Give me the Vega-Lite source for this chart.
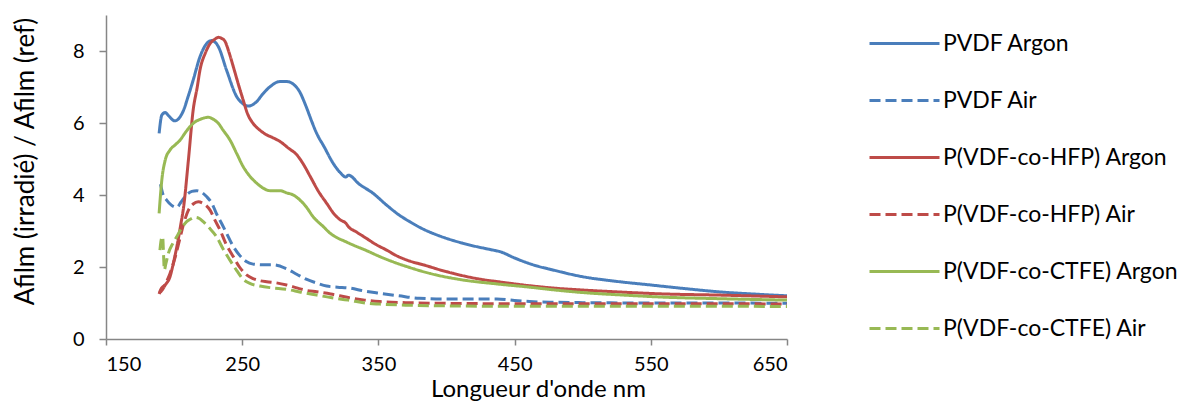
{
  "$schema": "https://vega.github.io/schema/vega-lite/v6.json",
  "autosize": "none",
  "width": 681,
  "height": 324,
  "padding": {"left": 106, "top": 15, "right": 397, "bottom": 64},
  "background": "white",
  "config": {
    "view": {"stroke": null},
    "font": "Lato",
    "axis": {
      "grid": false,
      "domainColor": "#868686",
      "domainWidth": 1.5,
      "tickColor": "#868686",
      "tickWidth": 1.5,
      "labelFont": "Lato",
      "labelFontSize": 20,
      "labelColor": "#000000",
      "titleFont": "Lato",
      "titleFontSize": 24,
      "titleFontWeight": "normal",
      "titleColor": "#000000"
    },
    "legend": {
      "orient": "none",
      "legendX": 762,
      "legendY": -8,
      "title": null,
      "symbolType": "stroke",
      "symbolSize": 4900,
      "symbolStrokeWidth": 3,
      "labelFont": "Lato",
      "labelFontSize": 23,
      "labelColor": "#000000",
      "labelOffset": 2,
      "rowPadding": 8,
      "labelLimit": 400
    }
  },
  "data": {
    "values": [
      {"series": "PVDF Argon", "x": 189, "y": 5.71},
      {"series": "PVDF Argon", "x": 191, "y": 6.22},
      {"series": "PVDF Argon", "x": 193.5, "y": 6.29},
      {"series": "PVDF Argon", "x": 196, "y": 6.2},
      {"series": "PVDF Argon", "x": 200.5, "y": 6.06},
      {"series": "PVDF Argon", "x": 204, "y": 6.15},
      {"series": "PVDF Argon", "x": 207, "y": 6.36},
      {"series": "PVDF Argon", "x": 210, "y": 6.7},
      {"series": "PVDF Argon", "x": 214, "y": 7.19},
      {"series": "PVDF Argon", "x": 219, "y": 7.84},
      {"series": "PVDF Argon", "x": 224, "y": 8.21},
      {"series": "PVDF Argon", "x": 227.5, "y": 8.29},
      {"series": "PVDF Argon", "x": 230, "y": 8.25},
      {"series": "PVDF Argon", "x": 232.5, "y": 8.12},
      {"series": "PVDF Argon", "x": 238.5, "y": 7.47},
      {"series": "PVDF Argon", "x": 246, "y": 6.73},
      {"series": "PVDF Argon", "x": 250, "y": 6.55},
      {"series": "PVDF Argon", "x": 254.5, "y": 6.47},
      {"series": "PVDF Argon", "x": 260.5, "y": 6.59},
      {"series": "PVDF Argon", "x": 265, "y": 6.8},
      {"series": "PVDF Argon", "x": 270.5, "y": 7.01},
      {"series": "PVDF Argon", "x": 277.5, "y": 7.15},
      {"series": "PVDF Argon", "x": 283, "y": 7.15},
      {"series": "PVDF Argon", "x": 287.5, "y": 7.08},
      {"series": "PVDF Argon", "x": 292, "y": 6.88},
      {"series": "PVDF Argon", "x": 297, "y": 6.45},
      {"series": "PVDF Argon", "x": 301, "y": 6.05},
      {"series": "PVDF Argon", "x": 304.7, "y": 5.71},
      {"series": "PVDF Argon", "x": 310, "y": 5.35},
      {"series": "PVDF Argon", "x": 316.8, "y": 4.88},
      {"series": "PVDF Argon", "x": 322, "y": 4.62},
      {"series": "PVDF Argon", "x": 326, "y": 4.5},
      {"series": "PVDF Argon", "x": 328, "y": 4.55},
      {"series": "PVDF Argon", "x": 336, "y": 4.3},
      {"series": "PVDF Argon", "x": 346, "y": 4.05},
      {"series": "PVDF Argon", "x": 356, "y": 3.72},
      {"series": "PVDF Argon", "x": 365, "y": 3.45},
      {"series": "PVDF Argon", "x": 373, "y": 3.26},
      {"series": "PVDF Argon", "x": 383, "y": 3.05},
      {"series": "PVDF Argon", "x": 393, "y": 2.89},
      {"series": "PVDF Argon", "x": 412, "y": 2.66},
      {"series": "PVDF Argon", "x": 434, "y": 2.47},
      {"series": "PVDF Argon", "x": 439, "y": 2.43},
      {"series": "PVDF Argon", "x": 450, "y": 2.25},
      {"series": "PVDF Argon", "x": 462, "y": 2.08},
      {"series": "PVDF Argon", "x": 480, "y": 1.9},
      {"series": "PVDF Argon", "x": 500, "y": 1.73},
      {"series": "PVDF Argon", "x": 525, "y": 1.6},
      {"series": "PVDF Argon", "x": 550, "y": 1.5},
      {"series": "PVDF Argon", "x": 575, "y": 1.4},
      {"series": "PVDF Argon", "x": 600, "y": 1.31},
      {"series": "PVDF Argon", "x": 625, "y": 1.25},
      {"series": "PVDF Argon", "x": 650, "y": 1.2},

      {"series": "PVDF Air", "x": 190, "y": 4.3},
      {"series": "PVDF Air", "x": 192, "y": 4.0},
      {"series": "PVDF Air", "x": 194.5, "y": 3.86},
      {"series": "PVDF Air", "x": 198, "y": 3.72},
      {"series": "PVDF Air", "x": 202, "y": 3.66},
      {"series": "PVDF Air", "x": 205, "y": 3.8},
      {"series": "PVDF Air", "x": 209, "y": 4.0},
      {"series": "PVDF Air", "x": 213, "y": 4.1},
      {"series": "PVDF Air", "x": 216.5, "y": 4.12},
      {"series": "PVDF Air", "x": 220, "y": 4.08},
      {"series": "PVDF Air", "x": 224, "y": 3.95},
      {"series": "PVDF Air", "x": 228, "y": 3.75},
      {"series": "PVDF Air", "x": 231, "y": 3.49},
      {"series": "PVDF Air", "x": 235, "y": 3.2},
      {"series": "PVDF Air", "x": 238.5, "y": 2.94},
      {"series": "PVDF Air", "x": 243, "y": 2.6},
      {"series": "PVDF Air", "x": 248, "y": 2.33},
      {"series": "PVDF Air", "x": 253, "y": 2.15},
      {"series": "PVDF Air", "x": 258, "y": 2.08},
      {"series": "PVDF Air", "x": 265, "y": 2.06},
      {"series": "PVDF Air", "x": 273, "y": 2.06},
      {"series": "PVDF Air", "x": 282.6, "y": 1.95},
      {"series": "PVDF Air", "x": 290, "y": 1.8},
      {"series": "PVDF Air", "x": 297, "y": 1.66},
      {"series": "PVDF Air", "x": 305, "y": 1.55},
      {"series": "PVDF Air", "x": 312, "y": 1.47},
      {"series": "PVDF Air", "x": 320, "y": 1.44},
      {"series": "PVDF Air", "x": 328, "y": 1.42},
      {"series": "PVDF Air", "x": 340, "y": 1.33},
      {"series": "PVDF Air", "x": 351, "y": 1.27},
      {"series": "PVDF Air", "x": 365, "y": 1.2},
      {"series": "PVDF Air", "x": 380, "y": 1.13},
      {"series": "PVDF Air", "x": 400, "y": 1.11},
      {"series": "PVDF Air", "x": 420, "y": 1.11},
      {"series": "PVDF Air", "x": 437, "y": 1.11},
      {"series": "PVDF Air", "x": 450, "y": 1.07},
      {"series": "PVDF Air", "x": 461, "y": 1.04},
      {"series": "PVDF Air", "x": 480, "y": 1.02},
      {"series": "PVDF Air", "x": 500, "y": 1.01},
      {"series": "PVDF Air", "x": 550, "y": 1.0},
      {"series": "PVDF Air", "x": 600, "y": 1.0},
      {"series": "PVDF Air", "x": 650, "y": 0.99},

      {"series": "P(VDF-co-HFP) Argon", "x": 189, "y": 1.27},
      {"series": "P(VDF-co-HFP) Argon", "x": 191, "y": 1.35},
      {"series": "P(VDF-co-HFP) Argon", "x": 193.5, "y": 1.5},
      {"series": "P(VDF-co-HFP) Argon", "x": 197, "y": 1.73},
      {"series": "P(VDF-co-HFP) Argon", "x": 200, "y": 2.2},
      {"series": "P(VDF-co-HFP) Argon", "x": 202, "y": 2.56},
      {"series": "P(VDF-co-HFP) Argon", "x": 205, "y": 3.2},
      {"series": "P(VDF-co-HFP) Argon", "x": 207, "y": 3.67},
      {"series": "P(VDF-co-HFP) Argon", "x": 210.5, "y": 4.97},
      {"series": "P(VDF-co-HFP) Argon", "x": 214, "y": 6.36},
      {"series": "P(VDF-co-HFP) Argon", "x": 217, "y": 7.0},
      {"series": "P(VDF-co-HFP) Argon", "x": 219, "y": 7.47},
      {"series": "P(VDF-co-HFP) Argon", "x": 223, "y": 7.95},
      {"series": "P(VDF-co-HFP) Argon", "x": 226.5, "y": 8.21},
      {"series": "P(VDF-co-HFP) Argon", "x": 230, "y": 8.33},
      {"series": "P(VDF-co-HFP) Argon", "x": 232.5, "y": 8.38},
      {"series": "P(VDF-co-HFP) Argon", "x": 235, "y": 8.35},
      {"series": "P(VDF-co-HFP) Argon", "x": 237.5, "y": 8.26},
      {"series": "P(VDF-co-HFP) Argon", "x": 240, "y": 8.0},
      {"series": "P(VDF-co-HFP) Argon", "x": 243.5, "y": 7.56},
      {"series": "P(VDF-co-HFP) Argon", "x": 247, "y": 7.1},
      {"series": "P(VDF-co-HFP) Argon", "x": 250.7, "y": 6.64},
      {"series": "P(VDF-co-HFP) Argon", "x": 254, "y": 6.25},
      {"series": "P(VDF-co-HFP) Argon", "x": 258, "y": 5.99},
      {"series": "P(VDF-co-HFP) Argon", "x": 263, "y": 5.8},
      {"series": "P(VDF-co-HFP) Argon", "x": 268, "y": 5.67},
      {"series": "P(VDF-co-HFP) Argon", "x": 272, "y": 5.6},
      {"series": "P(VDF-co-HFP) Argon", "x": 278, "y": 5.48},
      {"series": "P(VDF-co-HFP) Argon", "x": 284, "y": 5.3},
      {"series": "P(VDF-co-HFP) Argon", "x": 290, "y": 5.12},
      {"series": "P(VDF-co-HFP) Argon", "x": 295, "y": 4.85},
      {"series": "P(VDF-co-HFP) Argon", "x": 300, "y": 4.51},
      {"series": "P(VDF-co-HFP) Argon", "x": 306, "y": 4.1},
      {"series": "P(VDF-co-HFP) Argon", "x": 312, "y": 3.77},
      {"series": "P(VDF-co-HFP) Argon", "x": 318, "y": 3.45},
      {"series": "P(VDF-co-HFP) Argon", "x": 322, "y": 3.31},
      {"series": "P(VDF-co-HFP) Argon", "x": 326, "y": 3.22},
      {"series": "P(VDF-co-HFP) Argon", "x": 328, "y": 3.12},
      {"series": "P(VDF-co-HFP) Argon", "x": 334, "y": 2.97},
      {"series": "P(VDF-co-HFP) Argon", "x": 341, "y": 2.8},
      {"series": "P(VDF-co-HFP) Argon", "x": 348, "y": 2.63},
      {"series": "P(VDF-co-HFP) Argon", "x": 356, "y": 2.47},
      {"series": "P(VDF-co-HFP) Argon", "x": 363, "y": 2.32},
      {"series": "P(VDF-co-HFP) Argon", "x": 371, "y": 2.19},
      {"series": "P(VDF-co-HFP) Argon", "x": 383, "y": 2.06},
      {"series": "P(VDF-co-HFP) Argon", "x": 400, "y": 1.87},
      {"series": "P(VDF-co-HFP) Argon", "x": 425, "y": 1.66},
      {"series": "P(VDF-co-HFP) Argon", "x": 440, "y": 1.58},
      {"series": "P(VDF-co-HFP) Argon", "x": 461, "y": 1.48},
      {"series": "P(VDF-co-HFP) Argon", "x": 480, "y": 1.41},
      {"series": "P(VDF-co-HFP) Argon", "x": 500, "y": 1.36},
      {"series": "P(VDF-co-HFP) Argon", "x": 530, "y": 1.3},
      {"series": "P(VDF-co-HFP) Argon", "x": 561, "y": 1.25},
      {"series": "P(VDF-co-HFP) Argon", "x": 600, "y": 1.22},
      {"series": "P(VDF-co-HFP) Argon", "x": 650, "y": 1.17},

      {"series": "P(VDF-co-HFP) Air", "x": 189, "y": 1.25},
      {"series": "P(VDF-co-HFP) Air", "x": 190, "y": 1.36},
      {"series": "P(VDF-co-HFP) Air", "x": 193, "y": 1.5},
      {"series": "P(VDF-co-HFP) Air", "x": 197, "y": 1.82},
      {"series": "P(VDF-co-HFP) Air", "x": 201, "y": 2.3},
      {"series": "P(VDF-co-HFP) Air", "x": 204, "y": 2.75},
      {"series": "P(VDF-co-HFP) Air", "x": 207, "y": 3.2},
      {"series": "P(VDF-co-HFP) Air", "x": 210.5, "y": 3.58},
      {"series": "P(VDF-co-HFP) Air", "x": 214, "y": 3.75},
      {"series": "P(VDF-co-HFP) Air", "x": 217.7, "y": 3.81},
      {"series": "P(VDF-co-HFP) Air", "x": 222, "y": 3.75},
      {"series": "P(VDF-co-HFP) Air", "x": 226.4, "y": 3.58},
      {"series": "P(VDF-co-HFP) Air", "x": 230, "y": 3.3},
      {"series": "P(VDF-co-HFP) Air", "x": 233.7, "y": 3.03},
      {"series": "P(VDF-co-HFP) Air", "x": 238, "y": 2.65},
      {"series": "P(VDF-co-HFP) Air", "x": 243.4, "y": 2.29},
      {"series": "P(VDF-co-HFP) Air", "x": 248, "y": 2.0},
      {"series": "P(VDF-co-HFP) Air", "x": 253.2, "y": 1.78},
      {"series": "P(VDF-co-HFP) Air", "x": 258, "y": 1.68},
      {"series": "P(VDF-co-HFP) Air", "x": 263, "y": 1.62},
      {"series": "P(VDF-co-HFP) Air", "x": 268, "y": 1.59},
      {"series": "P(VDF-co-HFP) Air", "x": 275, "y": 1.56},
      {"series": "P(VDF-co-HFP) Air", "x": 282.6, "y": 1.5},
      {"series": "P(VDF-co-HFP) Air", "x": 290, "y": 1.42},
      {"series": "P(VDF-co-HFP) Air", "x": 297, "y": 1.35},
      {"series": "P(VDF-co-HFP) Air", "x": 304.7, "y": 1.31},
      {"series": "P(VDF-co-HFP) Air", "x": 315, "y": 1.25},
      {"series": "P(VDF-co-HFP) Air", "x": 327.9, "y": 1.15},
      {"series": "P(VDF-co-HFP) Air", "x": 340, "y": 1.08},
      {"series": "P(VDF-co-HFP) Air", "x": 351, "y": 1.04},
      {"series": "P(VDF-co-HFP) Air", "x": 370, "y": 1.01},
      {"series": "P(VDF-co-HFP) Air", "x": 400, "y": 0.99},
      {"series": "P(VDF-co-HFP) Air", "x": 450, "y": 0.98},
      {"series": "P(VDF-co-HFP) Air", "x": 500, "y": 0.98},
      {"series": "P(VDF-co-HFP) Air", "x": 550, "y": 0.98},
      {"series": "P(VDF-co-HFP) Air", "x": 600, "y": 0.98},
      {"series": "P(VDF-co-HFP) Air", "x": 650, "y": 0.97},

      {"series": "P(VDF-co-CTFE) Argon", "x": 189, "y": 3.49},
      {"series": "P(VDF-co-CTFE) Argon", "x": 190, "y": 4.0},
      {"series": "P(VDF-co-CTFE) Argon", "x": 191, "y": 4.42},
      {"series": "P(VDF-co-CTFE) Argon", "x": 193.5, "y": 4.97},
      {"series": "P(VDF-co-CTFE) Argon", "x": 197, "y": 5.25},
      {"series": "P(VDF-co-CTFE) Argon", "x": 201, "y": 5.4},
      {"series": "P(VDF-co-CTFE) Argon", "x": 204.5, "y": 5.53},
      {"series": "P(VDF-co-CTFE) Argon", "x": 208, "y": 5.72},
      {"series": "P(VDF-co-CTFE) Argon", "x": 211.7, "y": 5.9},
      {"series": "P(VDF-co-CTFE) Argon", "x": 215, "y": 6.02},
      {"series": "P(VDF-co-CTFE) Argon", "x": 219, "y": 6.1},
      {"series": "P(VDF-co-CTFE) Argon", "x": 222, "y": 6.14},
      {"series": "P(VDF-co-CTFE) Argon", "x": 225, "y": 6.16},
      {"series": "P(VDF-co-CTFE) Argon", "x": 228, "y": 6.12},
      {"series": "P(VDF-co-CTFE) Argon", "x": 232.5, "y": 5.99},
      {"series": "P(VDF-co-CTFE) Argon", "x": 236, "y": 5.8},
      {"series": "P(VDF-co-CTFE) Argon", "x": 241, "y": 5.53},
      {"series": "P(VDF-co-CTFE) Argon", "x": 246, "y": 5.15},
      {"series": "P(VDF-co-CTFE) Argon", "x": 250.7, "y": 4.79},
      {"series": "P(VDF-co-CTFE) Argon", "x": 255, "y": 4.55},
      {"series": "P(VDF-co-CTFE) Argon", "x": 260.6, "y": 4.33},
      {"series": "P(VDF-co-CTFE) Argon", "x": 265, "y": 4.2},
      {"series": "P(VDF-co-CTFE) Argon", "x": 270.4, "y": 4.12},
      {"series": "P(VDF-co-CTFE) Argon", "x": 277.8, "y": 4.12},
      {"series": "P(VDF-co-CTFE) Argon", "x": 282.6, "y": 4.06},
      {"series": "P(VDF-co-CTFE) Argon", "x": 287.5, "y": 4.0},
      {"series": "P(VDF-co-CTFE) Argon", "x": 292.4, "y": 3.86},
      {"series": "P(VDF-co-CTFE) Argon", "x": 297, "y": 3.67},
      {"series": "P(VDF-co-CTFE) Argon", "x": 302, "y": 3.4},
      {"series": "P(VDF-co-CTFE) Argon", "x": 309.6, "y": 3.12},
      {"series": "P(VDF-co-CTFE) Argon", "x": 314.5, "y": 2.94},
      {"series": "P(VDF-co-CTFE) Argon", "x": 319.3, "y": 2.82},
      {"series": "P(VDF-co-CTFE) Argon", "x": 325, "y": 2.72},
      {"series": "P(VDF-co-CTFE) Argon", "x": 331.5, "y": 2.61},
      {"series": "P(VDF-co-CTFE) Argon", "x": 341, "y": 2.46},
      {"series": "P(VDF-co-CTFE) Argon", "x": 351, "y": 2.29},
      {"series": "P(VDF-co-CTFE) Argon", "x": 361, "y": 2.14},
      {"series": "P(VDF-co-CTFE) Argon", "x": 371, "y": 2.01},
      {"series": "P(VDF-co-CTFE) Argon", "x": 388, "y": 1.82},
      {"series": "P(VDF-co-CTFE) Argon", "x": 412, "y": 1.64},
      {"series": "P(VDF-co-CTFE) Argon", "x": 437, "y": 1.53},
      {"series": "P(VDF-co-CTFE) Argon", "x": 461, "y": 1.44},
      {"series": "P(VDF-co-CTFE) Argon", "x": 480, "y": 1.36},
      {"series": "P(VDF-co-CTFE) Argon", "x": 500, "y": 1.29},
      {"series": "P(VDF-co-CTFE) Argon", "x": 530, "y": 1.22},
      {"series": "P(VDF-co-CTFE) Argon", "x": 561, "y": 1.16},
      {"series": "P(VDF-co-CTFE) Argon", "x": 600, "y": 1.12},
      {"series": "P(VDF-co-CTFE) Argon", "x": 650, "y": 1.08},

      {"series": "P(VDF-co-CTFE) Air", "x": 189.6, "y": 2.47},
      {"series": "P(VDF-co-CTFE) Air", "x": 190.5, "y": 2.75},
      {"series": "P(VDF-co-CTFE) Air", "x": 191.6, "y": 2.84},
      {"series": "P(VDF-co-CTFE) Air", "x": 192.3, "y": 2.3},
      {"series": "P(VDF-co-CTFE) Air", "x": 192.8, "y": 1.92},
      {"series": "P(VDF-co-CTFE) Air", "x": 194, "y": 2.1},
      {"series": "P(VDF-co-CTFE) Air", "x": 195.8, "y": 2.38},
      {"series": "P(VDF-co-CTFE) Air", "x": 199, "y": 2.65},
      {"series": "P(VDF-co-CTFE) Air", "x": 201.9, "y": 2.84},
      {"series": "P(VDF-co-CTFE) Air", "x": 205, "y": 3.05},
      {"series": "P(VDF-co-CTFE) Air", "x": 209.2, "y": 3.26},
      {"series": "P(VDF-co-CTFE) Air", "x": 212, "y": 3.33},
      {"series": "P(VDF-co-CTFE) Air", "x": 215.3, "y": 3.38},
      {"series": "P(VDF-co-CTFE) Air", "x": 218, "y": 3.36},
      {"series": "P(VDF-co-CTFE) Air", "x": 221.4, "y": 3.26},
      {"series": "P(VDF-co-CTFE) Air", "x": 226, "y": 3.08},
      {"series": "P(VDF-co-CTFE) Air", "x": 231.2, "y": 2.84},
      {"series": "P(VDF-co-CTFE) Air", "x": 236, "y": 2.5},
      {"series": "P(VDF-co-CTFE) Air", "x": 241, "y": 2.19},
      {"series": "P(VDF-co-CTFE) Air", "x": 246, "y": 1.9},
      {"series": "P(VDF-co-CTFE) Air", "x": 250.7, "y": 1.66},
      {"series": "P(VDF-co-CTFE) Air", "x": 256, "y": 1.54},
      {"series": "P(VDF-co-CTFE) Air", "x": 263, "y": 1.47},
      {"series": "P(VDF-co-CTFE) Air", "x": 272, "y": 1.42},
      {"series": "P(VDF-co-CTFE) Air", "x": 282.6, "y": 1.38},
      {"series": "P(VDF-co-CTFE) Air", "x": 293, "y": 1.3},
      {"series": "P(VDF-co-CTFE) Air", "x": 304.7, "y": 1.22},
      {"series": "P(VDF-co-CTFE) Air", "x": 315, "y": 1.15},
      {"series": "P(VDF-co-CTFE) Air", "x": 327.9, "y": 1.08},
      {"series": "P(VDF-co-CTFE) Air", "x": 340, "y": 1.0},
      {"series": "P(VDF-co-CTFE) Air", "x": 351, "y": 0.97},
      {"series": "P(VDF-co-CTFE) Air", "x": 370, "y": 0.94},
      {"series": "P(VDF-co-CTFE) Air", "x": 400, "y": 0.92},
      {"series": "P(VDF-co-CTFE) Air", "x": 450, "y": 0.91},
      {"series": "P(VDF-co-CTFE) Air", "x": 500, "y": 0.91},
      {"series": "P(VDF-co-CTFE) Air", "x": 550, "y": 0.91},
      {"series": "P(VDF-co-CTFE) Air", "x": 600, "y": 0.91},
      {"series": "P(VDF-co-CTFE) Air", "x": 650, "y": 0.9}
    ]
  },
  "mark": {"type": "line", "strokeWidth": 3, "strokeJoin": "round", "interpolate": "monotone", "clip": true},
  "encoding": {
    "x": {
      "field": "x",
      "type": "quantitative",
      "scale": {"domain": [150, 650], "nice": false, "zero": false},
      "axis": {"values": [150, 250, 350, 450, 550, 650], "title": "Longueur d'onde nm", "tickSize": 6, "labelPadding": 9, "titleX": 432, "titleY": 57, "titleBaseline": "alphabetic"}
    },
    "y": {
      "field": "y",
      "type": "quantitative",
      "scale": {"domain": [0, 9], "nice": false},
      "axis": {"values": [0, 2, 4, 6, 8], "title": "Afilm (irradié) / Afilm (ref)", "tickSize": 7, "labelPadding": 15, "titleX": -73, "titleY": 146, "titleFontSize": 26, "titleBaseline": "alphabetic"}
    },
    "color": {
      "field": "series",
      "type": "nominal",
      "sort": ["PVDF Argon", "PVDF Air", "P(VDF-co-HFP) Argon", "P(VDF-co-HFP) Air", "P(VDF-co-CTFE) Argon", "P(VDF-co-CTFE) Air"],
      "scale": {
        "domain": ["PVDF Argon", "PVDF Air", "P(VDF-co-HFP) Argon", "P(VDF-co-HFP) Air", "P(VDF-co-CTFE) Argon", "P(VDF-co-CTFE) Air"],
        "range": ["#4A7EBB", "#4A7EBB", "#BE4B48", "#BE4B48", "#98B954", "#98B954"]
      },
      "legend": {"title": null}
    },
    "strokeDash": {
      "field": "series",
      "type": "nominal",
      "sort": ["PVDF Argon", "PVDF Air", "P(VDF-co-HFP) Argon", "P(VDF-co-HFP) Air", "P(VDF-co-CTFE) Argon", "P(VDF-co-CTFE) Air"],
      "scale": {
        "domain": ["PVDF Argon", "PVDF Air", "P(VDF-co-HFP) Argon", "P(VDF-co-HFP) Air", "P(VDF-co-CTFE) Argon", "P(VDF-co-CTFE) Air"],
        "range": [[1, 0], [11, 5], [1, 0], [11, 5], [1, 0], [11, 5]]
      },
      "legend": {"title": null}
    }
  }
}
